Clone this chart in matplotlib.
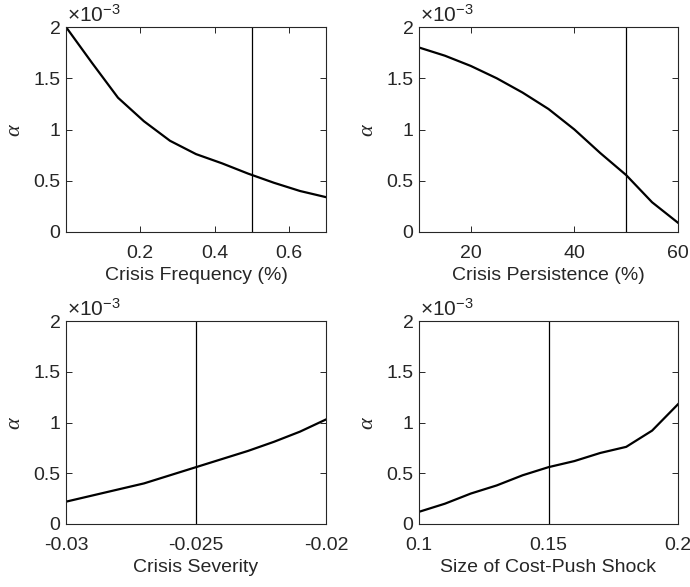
import matplotlib
matplotlib.use("Agg")
import matplotlib.pyplot as plt
from matplotlib.ticker import FuncFormatter, FixedLocator

plt.rcParams['font.family'] = ['Liberation Sans', 'DejaVu Sans']
plt.rcParams['mathtext.fontset'] = 'custom'
plt.rcParams['mathtext.rm'] = 'Liberation Sans'
plt.rcParams['mathtext.it'] = 'Liberation Serif:italic'

# Panel 1: crisis frequency
freq_x = [0.0, 0.07, 0.14, 0.21, 0.28, 0.35, 0.42, 0.49, 0.56, 0.63, 0.70]
freq_y = [2.00, 1.65, 1.31, 1.08, 0.89, 0.76, 0.67, 0.57, 0.48, 0.40, 0.34]
freq_ref = 0.5

# Panel 2: crisis persistence
pers_x = [10, 15, 20, 25, 30, 35, 40, 45, 50, 55, 60]
pers_y = [1.80, 1.72, 1.62, 1.50, 1.36, 1.20, 1.00, 0.77, 0.555, 0.29, 0.09]
pers_ref = 50

# Panel 3: crisis severity
sev_x = [-0.030, -0.029, -0.028, -0.027, -0.026, -0.025, -0.024, -0.023, -0.022, -0.021, -0.020]
sev_y = [0.22, 0.28, 0.34, 0.40, 0.48, 0.56, 0.64, 0.72, 0.81, 0.91, 1.03]
sev_ref = -0.025

# Panel 4: cost-push shock size
cps_x = [0.10, 0.11, 0.12, 0.13, 0.14, 0.15, 0.16, 0.17, 0.18, 0.19, 0.20]
cps_y = [0.12, 0.20, 0.30, 0.38, 0.48, 0.56, 0.62, 0.70, 0.76, 0.92, 1.18]
cps_ref = 0.15

SCALE = 1e-3
y_ticks = [0, 0.5, 1, 1.5, 2]

panels = [
    (freq_x, freq_y, freq_ref, (0, 0.7), [0.2, 0.4, 0.6], ['0.2', '0.4', '0.6'], 'Crisis Frequency (%)'),
    (pers_x, pers_y, pers_ref, (10, 60), [20, 40, 60], ['20', '40', '60'], 'Crisis Persistence (%)'),
    (sev_x, sev_y, sev_ref, (-0.03, -0.02), [-0.03, -0.025, -0.02], ['-0.03', '-0.025', '-0.02'], 'Crisis Severity'),
    (cps_x, cps_y, cps_ref, (0.1, 0.2), [0.1, 0.15, 0.2], ['0.1', '0.15', '0.2'], 'Size of Cost-Push Shock'),
]

W, H = 690, 587
fig = plt.figure(figsize=(W / 100, H / 100), dpi=100)

# axes boxes in pixels: left, right, top, bottom
boxes = [
    (66, 326, 27, 232),
    (419, 678, 27, 232),
    (66, 326, 321, 524),
    (419, 678, 321, 524),
]

axcol = '#262626'
FS = 14
for (x, y, ref, xl, xt, xtl, xlabel), (l, r, t, b) in zip(panels, boxes):
    ax = fig.add_axes([l / W, 1 - b / H, (r - l) / W, (b - t) / H])
    ys = [v * SCALE for v in y]
    ax.plot(x, ys, color='black', lw=1.6)
    ax.axvline(ref, color='black', lw=0.9)
    ax.set_xlim(*xl)
    ax.set_ylim(0, 2 * SCALE)
    ax.xaxis.set_major_locator(FixedLocator(xt))
    ax.set_xticklabels(xtl)
    ax.yaxis.set_major_locator(FixedLocator([v * SCALE for v in y_ticks]))
    ax.yaxis.set_major_formatter(FuncFormatter(lambda v, p: f"{v / SCALE:g}"))
    ax.tick_params(direction='in', top=True, right=True, length=4, width=0.7,
                   labelsize=FS, colors=axcol, labelcolor=axcol)
    ax.tick_params(axis='x', pad=9)
    ax.tick_params(axis='y', pad=4)
    for s in ax.spines.values():
        s.set_color(axcol)
        s.set_linewidth(0.8)
    ax.set_xlabel(xlabel, fontsize=FS, color=axcol, labelpad=4)
    ax.set_ylabel(r'$\alpha$', fontsize=16, color=axcol, labelpad=6)
    ax.text(0.005, 1.008, '\u00d710$^{\\mathregular{-3}}$', transform=ax.transAxes,
            fontsize=15, color=axcol, ha='left', va='bottom')

fig.savefig('out.png', dpi=100)
